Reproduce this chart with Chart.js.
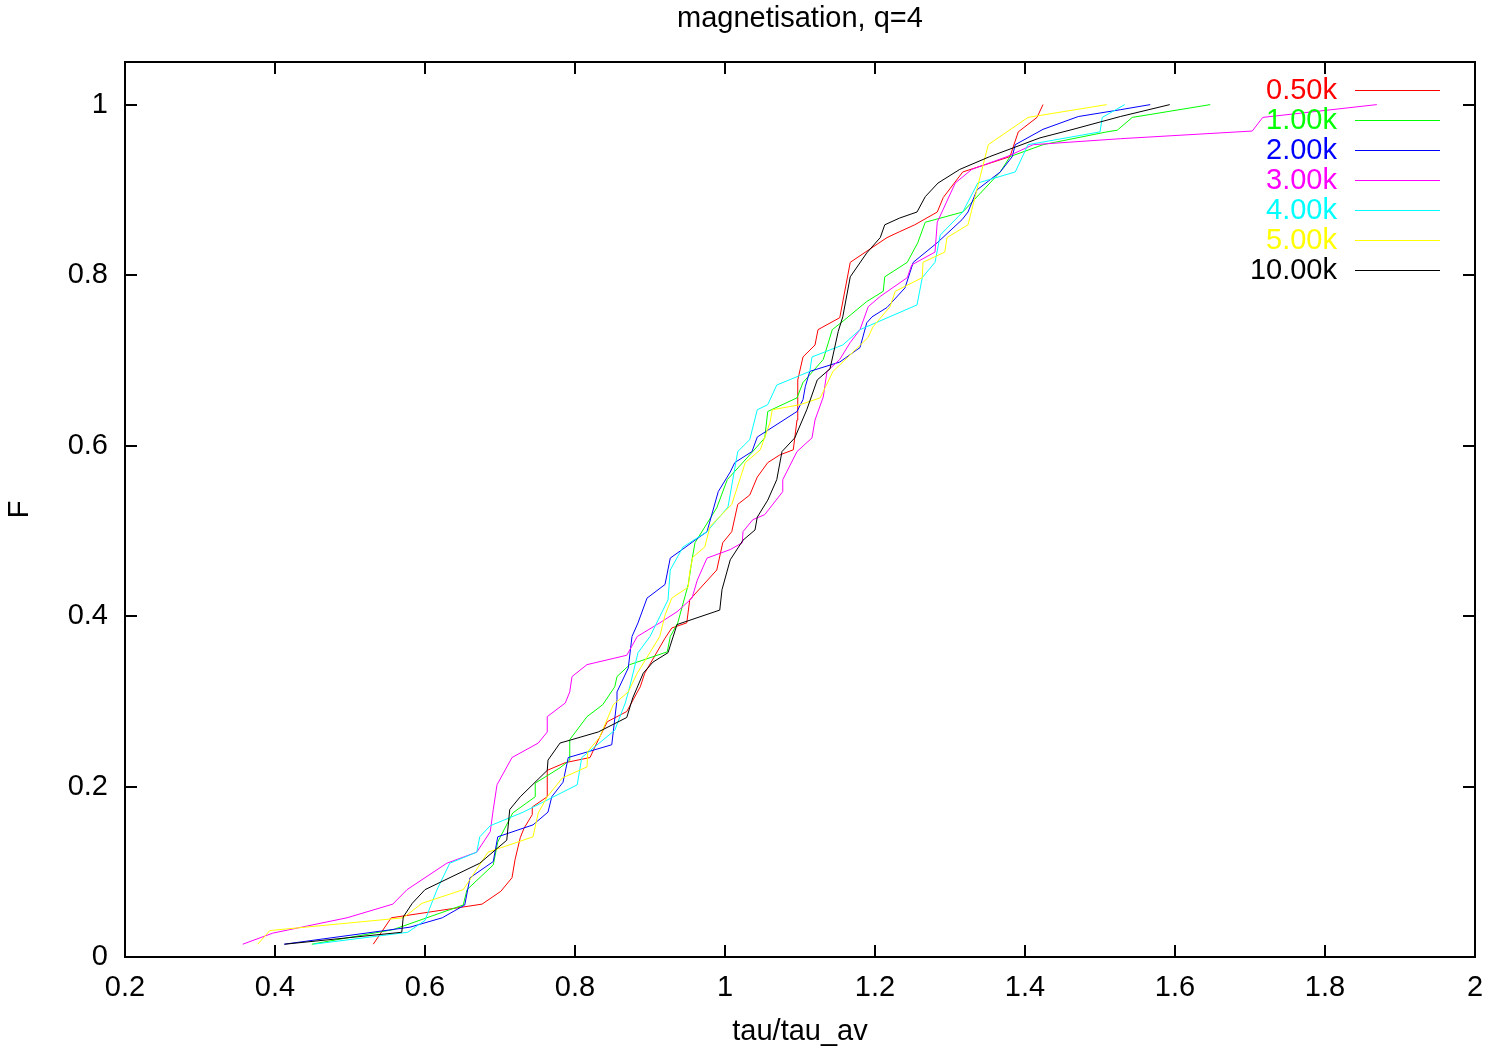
<!DOCTYPE html>
<html>
<head>
<meta charset="utf-8">
<script src="https://cdn.jsdelivr.net/npm/chart.js@4/dist/chart.umd.min.js"></script>
<style>
html,body{margin:0;padding:0;background:#ffffff;}
#wrap{width:1506px;height:1055px;}
</style>
</head>
<body>
<div id="wrap"><canvas id="c" width="1506" height="1055"></canvas></div>
<script>
// ---- data ----
const seriesLabels = ['0.50k', '1.00k', '2.00k', '3.00k', '4.00k', '5.00k', '10.00k'];
const seriesColors = ['#ff0000', '#00ff00', '#0000ff', '#ff00ff', '#00ffff', '#ffff00', '#000000'];
const xTickValues = [0.2, 0.4, 0.6, 0.8, 1.0, 1.2, 1.4, 1.6, 1.8, 2.0];
const xTickLabels = ['0.2', '0.4', '0.6', '0.8', '1', '1.2', '1.4', '1.6', '1.8', '2'];
const yTickValues = [0, 0.2, 0.4, 0.6, 0.8, 1.0];
const yTickLabels = ['0', '0.2', '0.4', '0.6', '0.8', '1'];

const k050_x = [0.531,0.555,0.676,0.701,0.716,0.720,0.727,0.732,0.743,0.743,0.763,0.763,0.787,0.820,0.829,0.843,0.869,0.887,0.893,0.920,0.929,0.949,0.953,0.957,0.989,0.997,1.009,1.017,1.033,1.043,1.057,1.073,1.091,1.096,1.097,1.104,1.120,1.124,1.153,1.167,1.216,1.233,1.253,1.283,1.291,1.317,1.380,1.391,1.416,1.424];
const k050_y = [0.015,0.046,0.062,0.077,0.093,0.114,0.140,0.151,0.167,0.176,0.188,0.219,0.228,0.234,0.251,0.276,0.288,0.317,0.333,0.374,0.386,0.392,0.419,0.423,0.454,0.486,0.499,0.531,0.542,0.563,0.580,0.589,0.595,0.630,0.677,0.704,0.718,0.736,0.750,0.815,0.844,0.851,0.859,0.874,0.891,0.921,0.939,0.968,0.985,1.000];

const k100_x = [0.449,0.557,0.651,0.656,0.691,0.697,0.717,0.747,0.747,0.780,0.793,0.793,0.816,0.837,0.853,0.856,0.873,0.923,0.927,0.937,0.951,0.956,0.960,0.989,1.003,1.036,1.053,1.057,1.096,1.104,1.131,1.143,1.156,1.189,1.211,1.213,1.243,1.257,1.267,1.317,1.367,1.380,1.424,1.509,1.523,1.543,1.647];
const k100_y = [0.015,0.032,0.061,0.079,0.108,0.135,0.169,0.188,0.204,0.222,0.231,0.255,0.282,0.296,0.317,0.329,0.343,0.358,0.376,0.392,0.437,0.466,0.486,0.527,0.560,0.592,0.609,0.640,0.656,0.674,0.701,0.736,0.745,0.769,0.781,0.798,0.815,0.838,0.862,0.874,0.921,0.939,0.953,0.968,0.970,0.985,1.000];

const k200_x = [0.412,0.580,0.623,0.653,0.660,0.691,0.697,0.744,0.764,0.769,0.784,0.791,0.849,0.856,0.856,0.871,0.876,0.884,0.896,0.920,0.927,0.943,0.960,0.976,0.991,1.007,1.013,1.036,1.043,1.096,1.104,1.107,1.113,1.153,1.180,1.189,1.196,1.216,1.240,1.251,1.283,1.316,1.324,1.336,1.367,1.383,1.387,1.424,1.471,1.527,1.567];
const k200_y = [0.015,0.035,0.046,0.061,0.093,0.112,0.141,0.155,0.170,0.188,0.205,0.234,0.249,0.302,0.311,0.339,0.376,0.392,0.421,0.437,0.468,0.478,0.489,0.499,0.546,0.569,0.580,0.593,0.610,0.640,0.654,0.669,0.687,0.698,0.715,0.744,0.751,0.762,0.785,0.815,0.838,0.865,0.874,0.900,0.921,0.939,0.953,0.971,0.986,0.994,1.000];

const k300_x = [0.357,0.397,0.496,0.557,0.576,0.629,0.669,0.687,0.691,0.696,0.716,0.751,0.763,0.763,0.787,0.793,0.796,0.816,0.869,0.883,0.913,0.936,0.956,0.963,0.976,1.007,1.023,1.024,1.037,1.053,1.077,1.077,1.096,1.116,1.120,1.131,1.136,1.153,1.167,1.180,1.191,1.207,1.243,1.249,1.280,1.283,1.307,1.329,1.376,1.411,1.527,1.703,1.717,1.869];
const k300_y = [0.015,0.028,0.046,0.062,0.079,0.110,0.123,0.147,0.173,0.202,0.234,0.251,0.264,0.282,0.298,0.311,0.329,0.343,0.354,0.376,0.392,0.405,0.421,0.442,0.468,0.478,0.486,0.499,0.513,0.519,0.546,0.560,0.593,0.609,0.630,0.657,0.687,0.701,0.721,0.736,0.763,0.775,0.797,0.812,0.827,0.862,0.908,0.924,0.939,0.953,0.960,0.969,0.985,1.000];

const k400_x = [0.451,0.577,0.600,0.616,0.633,0.669,0.673,0.687,0.731,0.803,0.809,0.853,0.867,0.873,0.884,0.900,0.924,0.927,0.944,0.976,1.004,1.017,1.033,1.043,1.057,1.069,1.113,1.116,1.157,1.180,1.256,1.263,1.280,1.287,1.317,1.337,1.387,1.404,1.500,1.503,1.533];
const k400_y = [0.015,0.029,0.043,0.079,0.110,0.123,0.141,0.154,0.170,0.202,0.234,0.266,0.298,0.317,0.357,0.376,0.419,0.454,0.481,0.499,0.528,0.593,0.607,0.642,0.648,0.671,0.687,0.704,0.718,0.736,0.765,0.797,0.815,0.847,0.874,0.908,0.921,0.953,0.968,0.985,1.000];

const k500_x = [0.377,0.393,0.571,0.596,0.651,0.684,0.744,0.751,0.763,0.783,0.816,0.817,0.833,0.851,0.871,0.883,0.913,0.920,0.929,0.951,0.953,0.957,0.973,0.980,1.009,1.027,1.047,1.060,1.063,1.100,1.127,1.144,1.177,1.191,1.197,1.220,1.227,1.263,1.264,1.293,1.296,1.324,1.351,1.404,1.509];
const k500_y = [0.015,0.031,0.046,0.063,0.079,0.123,0.141,0.169,0.188,0.210,0.223,0.241,0.258,0.296,0.311,0.333,0.376,0.401,0.421,0.434,0.452,0.469,0.481,0.505,0.531,0.580,0.595,0.627,0.642,0.648,0.656,0.687,0.715,0.727,0.739,0.763,0.781,0.797,0.815,0.827,0.844,0.859,0.953,0.985,1.000];

const k1000_x = [0.413,0.569,0.571,0.583,0.600,0.673,0.709,0.713,0.727,0.763,0.764,0.780,0.831,0.869,0.877,0.891,0.904,0.924,0.936,0.993,0.996,1.007,1.024,1.040,1.043,1.057,1.069,1.076,1.093,1.109,1.123,1.140,1.151,1.157,1.167,1.189,1.207,1.213,1.233,1.256,1.267,1.284,1.313,1.353,1.420,1.464,1.527,1.593];
const k1000_y = [0.015,0.029,0.047,0.063,0.079,0.110,0.137,0.173,0.188,0.219,0.231,0.251,0.264,0.281,0.304,0.333,0.346,0.357,0.390,0.407,0.431,0.466,0.489,0.501,0.516,0.536,0.560,0.593,0.609,0.642,0.677,0.690,0.734,0.751,0.798,0.826,0.844,0.859,0.867,0.874,0.892,0.908,0.924,0.939,0.961,0.971,0.986,1.000];

const seriesX = [k050_x, k100_x, k200_x, k300_x, k400_x, k500_x, k1000_x];
const seriesY = [k050_y, k100_y, k200_y, k300_y, k400_y, k500_y, k1000_y];

// ---- chart ----
const FONT = '"Liberation Sans", Arial, Helvetica, sans-serif';
const FS = 29;

const datasets = seriesLabels.map((lab, i) => ({
  label: lab,
  data: seriesX[i].map((x, j) => ({x: x, y: seriesY[i][j]})),
  borderColor: seriesColors[i],
  backgroundColor: seriesColors[i],
  borderWidth: 1,
  pointRadius: 0,
  tension: 0,
  fill: false,
  order: seriesLabels.length - 1 - i
}));

const framePlugin = {
  id: 'frame',
  afterDatasetsDraw(chart) {
    const {ctx, chartArea: a, scales} = chart;
    const tl = 12;
    ctx.save();
    ctx.strokeStyle = '#000';
    ctx.lineWidth = 2;
    ctx.beginPath();
    scales.x.ticks.forEach(t => {
      const px = Math.round(scales.x.getPixelForValue(t.value));
      ctx.moveTo(px, a.bottom); ctx.lineTo(px, a.bottom - tl);
      ctx.moveTo(px, a.top); ctx.lineTo(px, a.top + tl);
    });
    scales.y.ticks.forEach(t => {
      const py = Math.round(scales.y.getPixelForValue(t.value));
      ctx.moveTo(a.left, py); ctx.lineTo(a.left + tl, py);
      ctx.moveTo(a.right, py); ctx.lineTo(a.right - tl, py);
    });
    ctx.stroke();
    ctx.strokeRect(a.left, a.top, a.right - a.left, a.bottom - a.top);
    ctx.restore();
  }
};

const keyPlugin = {
  id: 'key',
  afterDraw(chart) {
    const {ctx} = chart;
    ctx.save();
    ctx.font = FS + 'px ' + FONT;
    ctx.textAlign = 'right';
    ctx.textBaseline = 'middle';
    ctx.lineWidth = 1;
    chart.data.datasets.forEach((ds, i) => {
      const y = 90 + 30 * i;
      ctx.fillStyle = ds.borderColor;
      ctx.fillText(ds.label, 1337, y + 1);
      ctx.strokeStyle = ds.borderColor;
      ctx.beginPath();
      ctx.moveTo(1355, y + 0.5);
      ctx.lineTo(1440, y + 0.5);
      ctx.stroke();
    });
    ctx.restore();
  }
};

new Chart(document.getElementById('c'), {
  type: 'line',
  data: {datasets: datasets},
  options: {
    responsive: false,
    animation: false,
    devicePixelRatio: 1,
    layout: {padding: {left: 0, right: 31, top: 0, bottom: 0}},
    plugins: {
      legend: {display: false},
      tooltip: {enabled: false},
      title: {
        display: true,
        fullSize: false,
        text: 'magnetisation, q=4',
        color: '#000',
        font: {family: FONT, size: FS, weight: 'normal'},
        padding: {top: 1.2, bottom: 26}
      }
    },
    scales: {
      x: {
        type: 'linear',
        min: 0.2,
        max: 2.0,
        afterBuildTicks: s => { s.ticks = xTickValues.map(v => ({value: v})); },
        afterFit: s => { s.height = 98; },
        grid: {display: false, drawTicks: false, tickLength: 0},
        border: {display: false},
        ticks: {
          color: '#000',
          font: {family: FONT, size: FS},
          padding: 14,
          maxRotation: 0,
          autoSkip: false,
          callback: (v, i) => xTickLabels[i]
        },
        title: {
          display: true,
          text: 'tau/tau_av',
          color: '#000',
          font: {family: FONT, size: FS},
          padding: {top: 0, bottom: 5.5}
        }
      },
      y: {
        type: 'linear',
        min: 0,
        max: 1.05,
        afterBuildTicks: s => { s.ticks = yTickValues.map(v => ({value: v})); },
        afterFit: s => { s.width = 125; },
        grid: {display: false, drawTicks: false, tickLength: 0},
        border: {display: false},
        ticks: {
          color: '#000',
          font: {family: FONT, size: FS},
          padding: 17,
          autoSkip: false,
          callback: (v, i) => yTickLabels[i]
        },
        title: {
          display: true,
          text: 'F',
          color: '#000',
          font: {family: FONT, size: FS},
          padding: {top: 2.5, bottom: 0}
        }
      }
    }
  },
  plugins: [framePlugin, keyPlugin]
});
</script>
</body>
</html>
